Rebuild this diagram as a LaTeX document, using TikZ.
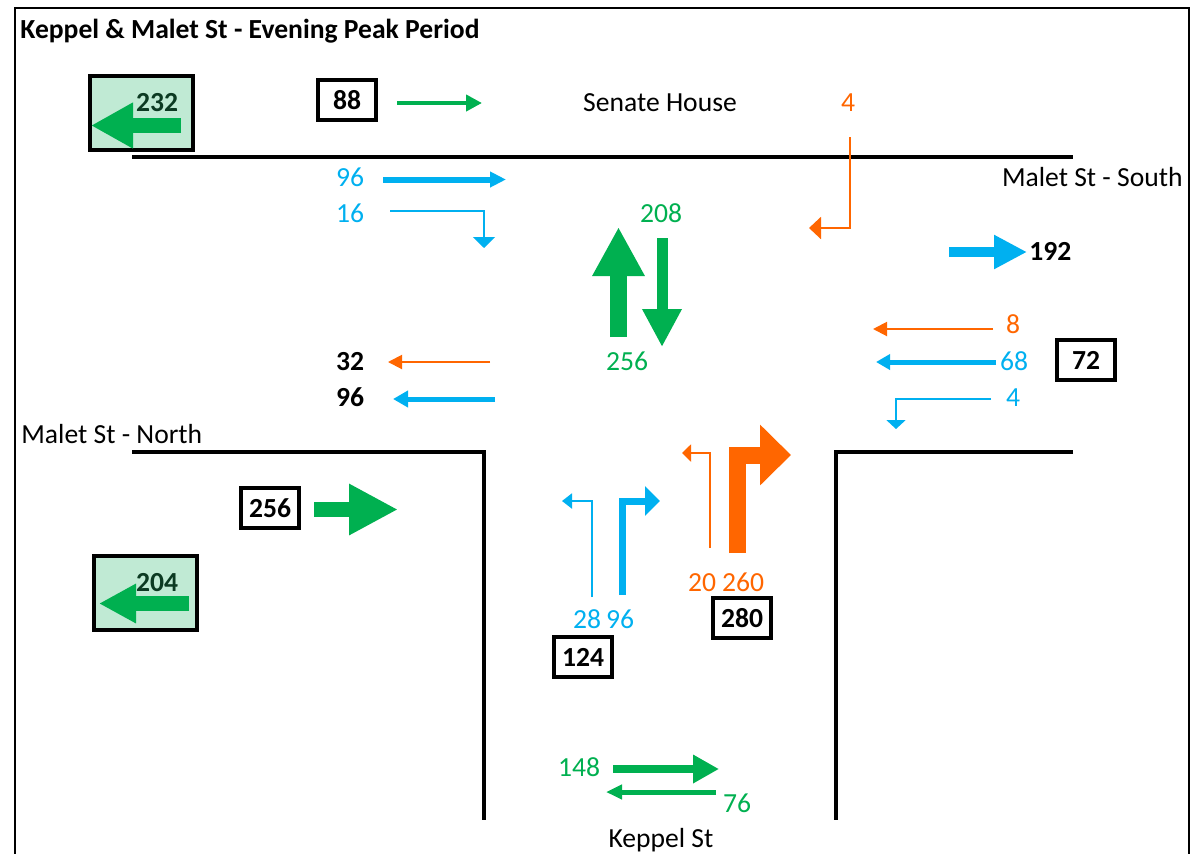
\documentclass[tikz,border=0pt]{standalone}
\usepackage{fontspec}
\setmainfont{Carlito}
\usetikzlibrary{arrows.meta}
\definecolor{tgreen}{RGB}{0,176,80}
\definecolor{tblue}{RGB}{0,176,240}
\definecolor{torange}{RGB}{255,102,0}
\definecolor{lgreen}{RGB}{192,234,212}
\definecolor{dgreen}{RGB}{12,58,34}
\newcommand\lblfont{\fontsize{13.8}{16}\selectfont}
\tikzset{
  lbl/.style={font=\lblfont, inner sep=0pt, text height=0.64em, text depth=0pt, yshift=-1.25pt},
  blbl/.style={lbl, font=\lblfont\bfseries},
  cbox/.style={draw, line width=2.2pt, minimum width=29.25pt, minimum height=20pt, inner sep=0pt},
  gbox/.style={draw, fill=lgreen, line width=2pt, minimum width=51.5pt, minimum height=37pt, inner sep=0pt},
  road/.style={line width=2pt},
  frameline/.style={line width=1.2pt},
}
\begin{document}
\begin{tikzpicture}[x=0.5pt,y=-0.5pt]
\useasboundingbox (0,0) rectangle (1198,853);
\fill[white] (0,0) rectangle (1198,853);
% frame
\draw[frameline] (15,860) -- (15,8) -- (1189,8) -- (1189,860);
% roads
\draw[road] (132,157) -- (1073,157);
\draw[road] (132,452) -- (484,452) -- (484,820);
\draw[road] (1073,452) -- (836,452) -- (836,820);

% title
\node[blbl, anchor=west] (title) at (20,30) {Keppel \& Malet St - Evening Peak Period};

% street names
\node[lbl] (senate) at (660,103) {Senate House};
\node[lbl, anchor=east] (south) at (1183,178) {Malet St - South};
\node[lbl, anchor=west] (north) at (21,435) {Malet St - North};
\node[lbl] (keppel) at (661,839) {Keppel St};

% green summary boxes
\node[gbox] (box232) at (141.5,113) {};
\coordinate (g232a) at (181,125.5);
\coordinate (g232b) at (91,125.5);
\draw[tgreen, line width=7.5pt, -{Triangle[width=21.5pt,length=21pt]}] (g232a) -- (g232b);
\node[blbl, text=dgreen] (t232) at (157,103) {232};

\node[gbox] (box204) at (145.5,593) {};
\coordinate (g204a) at (189,603.5);
\coordinate (g204b) at (99,603.5);
\draw[tgreen, line width=7.5pt, -{Triangle[width=18.5pt,length=18.5pt]}] (g204a) -- (g204b);
\node[blbl, text=dgreen] (t204) at (157,583) {204};

% count boxes
\node[cbox, font=\lblfont\bfseries] (box88) at (347,100) {88};
\node[cbox, font=\lblfont\bfseries] (box72) at (1086,360) {72};
\node[cbox, font=\lblfont\bfseries] (box256) at (270,508) {256};
\node[cbox, font=\lblfont\bfseries] (box124) at (583,657) {124};
\node[cbox, font=\lblfont\bfseries] (box280) at (742,618) {280};

% north approach (top)
\coordinate (a88a) at (397,103); \coordinate (a88b) at (482,103);
\draw[tgreen, line width=2pt, -{Triangle[width=8pt,length=8pt]}] (a88a) -- (a88b);

\node[lbl, text=torange] (n4o) at (848,103) {4};
\coordinate (o4a) at (850,137); \coordinate (o4b) at (809,228);
\draw[torange, line width=1pt, -{Triangle[width=11pt,length=6pt]}] (o4a) |- (o4b);

% blue from west (top)
\node[lbl, text=tblue] (n96a) at (350,178) {96};
\coordinate (b96a) at (383,179.5); \coordinate (b96b) at (506,179.5);
\draw[tblue, line width=3pt, -{Triangle[width=7.5pt,length=8pt]}] (b96a) -- (b96b);
\node[lbl, text=tblue] (n16) at (350,214) {16};
\coordinate (b16a) at (390,210.5); \coordinate (b16b) at (484,248);
\draw[tblue, line width=1pt, -{Triangle[width=11pt,length=5.5pt]}] (b16a) -| (b16b);

% green through arrows
\node[lbl, text=tgreen] (n208) at (661,214) {208};
\node[lbl, text=tgreen] (n256g) at (627,362) {256};
\coordinate (gupa) at (618.5,337); \coordinate (gupb) at (618.5,227);
\draw[tgreen, line width=8.5pt, -{Triangle[width=24.5pt,length=24.5pt]}] (gupa) -- (gupb);
\coordinate (gdna) at (662,238); \coordinate (gdnb) at (662,347);
\draw[tgreen, line width=5.5pt, -{Triangle[width=18.5pt,length=19pt]}] (gdna) -- (gdnb);

% west outgoing
\node[blbl] (n32) at (350,362) {32};
\coordinate (o32a) at (490,362); \coordinate (o32b) at (388,362);
\draw[torange, line width=1pt, -{Triangle[width=7pt,length=7pt]}] (o32a) -- (o32b);
\node[blbl] (n96w) at (350,398) {96};
\coordinate (b96wa) at (495,399); \coordinate (b96wb) at (393,399);
\draw[tblue, line width=2.5pt, -{Triangle[width=8pt,length=7.5pt]}] (b96wa) -- (b96wb);

% east side
\coordinate (b192a) at (949,252); \coordinate (b192b) at (1027,252);
\draw[tblue, line width=5pt, -{Triangle[width=16pt,length=16.5pt]}] (b192a) -- (b192b);
\node[blbl, anchor=west] (n192) at (1029,252) {192};

\node[lbl, text=torange] (n8) at (1013,325) {8};
\coordinate (o8a) at (993,329); \coordinate (o8b) at (873,329);
\draw[torange, line width=1pt, -{Triangle[width=7pt,length=7pt]}] (o8a) -- (o8b);
\node[lbl, text=tblue] (n68) at (1014,362) {68};
\coordinate (b68a) at (996,362); \coordinate (b68b) at (876,362);
\draw[tblue, line width=2.5pt, -{Triangle[width=7.5pt,length=7pt]}] (b68a) -- (b68b);
\node[lbl, text=tblue] (n4b) at (1013,398) {4};
\coordinate (b4a) at (991,399); \coordinate (b4b) at (896,429);
\draw[tblue, line width=1pt, -{Triangle[width=9.5pt,length=4.5pt]}] (b4a) -| (b4b);

% south-west green
\coordinate (g256a) at (314,509.5); \coordinate (g256b) at (398,509.5);
\draw[tgreen, line width=7.5pt, -{Triangle[width=24pt,length=24.5pt]}] (g256a) -- (g256b);

% Keppel St approach
\coordinate (b28a) at (592,597); \coordinate (b28b) at (562,501);
\draw[tblue, line width=1pt, -{Triangle[width=7.5pt,length=5pt]}] (b28a) |- (b28b);
\coordinate (b96sa) at (622.5,595); \coordinate (b96sb) at (660,501);
\draw[tblue, line width=3.5pt, -{Triangle[width=14.5pt,length=7.5pt]}] (b96sa) |- (b96sb);
\coordinate (o20a) at (710,548); \coordinate (o20b) at (682,453);
\draw[torange, line width=1pt, -{Triangle[width=8.5pt,length=4.5pt]}] (o20a) |- (o20b);
\coordinate (o260a) at (737.5,553); \coordinate (o260b) at (791,455);
\draw[torange, line width=8.5pt, -{Triangle[width=29.5pt,length=15.5pt]}] (o260a) |- (o260b);

\node[lbl, text=tblue] (n28) at (587,620) {28};
\node[lbl, text=tblue] (n96s) at (620,620) {96};
\node[lbl, text=torange] (n20) at (702,583) {20};
\node[lbl, text=torange] (n260) at (743,583) {260};

% Keppel St flows
\node[lbl, text=tgreen] (n148) at (579,768) {148};
\coordinate (g148a) at (613,769); \coordinate (g148b) at (719,769);
\draw[tgreen, line width=4pt, -{Triangle[width=13.5pt,length=13pt]}] (g148a) -- (g148b);
\node[lbl, text=tgreen] (n76) at (737,804) {76};
\coordinate (g76a) at (716,792); \coordinate (g76b) at (606,792);
\draw[tgreen, line width=2.5pt, -{Triangle[width=7pt,length=8pt]}] (g76a) -- (g76b);
\end{tikzpicture}
\end{document}
